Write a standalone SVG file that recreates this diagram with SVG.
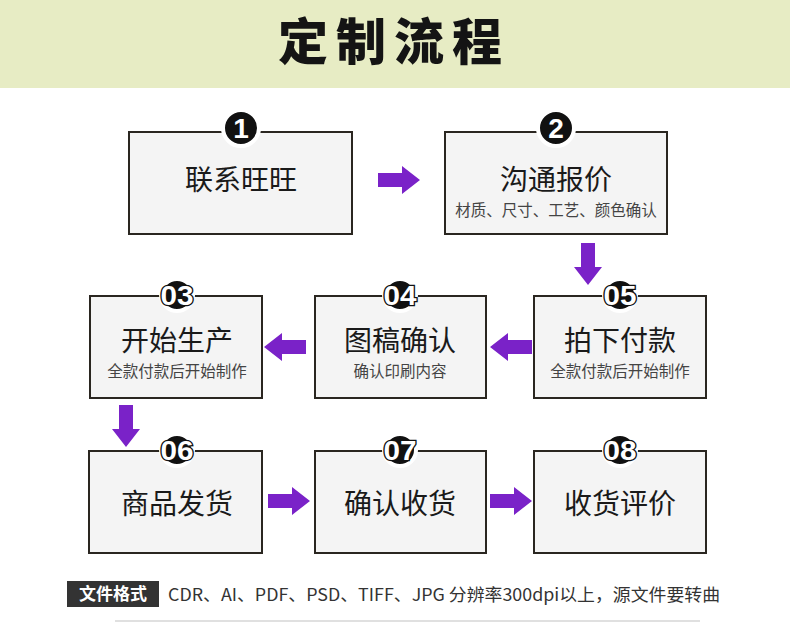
<svg xmlns="http://www.w3.org/2000/svg" xmlns:xlink="http://www.w3.org/1999/xlink" width="790" height="624" viewBox="0 0 790 624">
<style>
.box{fill:#f4f4f4;stroke:#2a2620;stroke-width:2}
.badge{fill:#111;stroke:#fff;stroke-width:4}
.num{font-family:"Liberation Sans","DejaVu Sans",sans-serif;font-weight:bold;fill:#fff;text-anchor:middle;stroke:#111;stroke-width:2.5;paint-order:stroke}
.main{font-family:"Noto Sans CJK SC",sans-serif;font-size:28px;fill:#1a1a1a;text-anchor:middle}
.sub{font-family:"Noto Sans CJK SC",sans-serif;font-size:15.5px;fill:#444;text-anchor:middle}
.arrow{fill:#7a22c8}
</style>
<defs>
<polygon id="arr" points="0,-7 24,-7 24,-14 42,0 24,14 24,7 0,7"/>
</defs>
<rect x="0" y="0" width="790" height="624" fill="#fff"/>
<g id="header">
<rect x="0" y="0" width="790" height="88" fill="#e7ecc4"/>
<text x="278" y="60" font-family="Noto Sans CJK SC,sans-serif" font-size="50" font-weight="900" letter-spacing="8" fill="#141414">定制流程</text>
</g>
<g id="connectors" class="arrow">
<use xlink:href="#arr" transform="translate(378,180)"/>
<use xlink:href="#arr" transform="translate(588,243) rotate(90)"/>
<use xlink:href="#arr" transform="translate(532,347) rotate(180)"/>
<use xlink:href="#arr" transform="translate(306,347) rotate(180)"/>
<use xlink:href="#arr" transform="translate(126,405) rotate(90)"/>
<use xlink:href="#arr" transform="translate(268,501)"/>
<use xlink:href="#arr" transform="translate(490,501)"/>
</g>
<g id="n1">
<rect class="box" x="129" y="132" width="223" height="102"/>
<circle class="badge" cx="241" cy="128" r="18"/>
<text class="num" x="241" y="138" font-size="28" stroke="none">1</text>
<text class="main" x="241" y="190">联系旺旺</text>
</g>
<g id="n2">
<rect class="box" x="445" y="132" width="222" height="102"/>
<circle class="badge" cx="556" cy="128" r="18"/>
<text class="num" x="556" y="138" font-size="28" stroke="none">2</text>
<text class="main" x="556" y="190">沟通报价</text>
<text class="sub" x="556" y="216" font-size="16">材质、尺寸、工艺、颜色确认</text>
</g>
<g id="n3">
<rect class="box" x="90" y="296" width="172" height="102"/>
<circle class="badge" cx="177" cy="295" r="16"/>
<text class="num" x="177" y="305" font-size="27" textLength="33" lengthAdjust="spacingAndGlyphs">03</text>
<text class="main" x="177" y="351">开始生产</text>
<text class="sub" x="177" y="377">全款付款后开始制作</text>
</g>
<g id="n4">
<rect class="box" x="315" y="296" width="171" height="102"/>
<circle class="badge" cx="400" cy="295" r="16"/>
<text class="num" x="400" y="305" font-size="27" textLength="33" lengthAdjust="spacingAndGlyphs">04</text>
<text class="main" x="400" y="351">图稿确认</text>
<text class="sub" x="400" y="377">确认印刷内容</text>
</g>
<g id="n5">
<rect class="box" x="534" y="296" width="172" height="102"/>
<circle class="badge" cx="620" cy="295" r="16"/>
<text class="num" x="620" y="305" font-size="27" textLength="33" lengthAdjust="spacingAndGlyphs">05</text>
<text class="main" x="620" y="351">拍下付款</text>
<text class="sub" x="620" y="377">全款付款后开始制作</text>
</g>
<g id="n6">
<rect class="box" x="89" y="451" width="173" height="102"/>
<circle class="badge" cx="177" cy="450" r="16"/>
<text class="num" x="177" y="460" font-size="27" textLength="33" lengthAdjust="spacingAndGlyphs">06</text>
<text class="main" x="177" y="514">商品发货</text>
</g>
<g id="n7">
<rect class="box" x="315" y="451" width="171" height="102"/>
<circle class="badge" cx="400" cy="450" r="16"/>
<text class="num" x="400" y="460" font-size="27" textLength="33" lengthAdjust="spacingAndGlyphs">07</text>
<text class="main" x="400" y="514">确认收货</text>
</g>
<g id="n8">
<rect class="box" x="534" y="451" width="172" height="102"/>
<circle class="badge" cx="620" cy="450" r="16"/>
<text class="num" x="620" y="460" font-size="27" textLength="33" lengthAdjust="spacingAndGlyphs">08</text>
<text class="main" x="620" y="514">收货评价</text>
</g>
<g id="footer">
<rect x="67" y="581" width="92" height="26" fill="#333"/>
<text x="113" y="600" font-family="Noto Sans CJK SC,sans-serif" font-size="17" font-weight="bold" fill="#fff" text-anchor="middle">文件格式</text>
<text x="168" y="601" font-family="Noto Sans CJK SC,sans-serif" font-size="17" fill="#333" textLength="552" lengthAdjust="spacingAndGlyphs">CDR、AI、PDF、PSD、TIFF、JPG 分辨率300dpi以上，源文件要转曲</text>
<line x1="115" y1="621" x2="700" y2="621" stroke="#e0e0e0" stroke-width="2"/>
</g>
</svg>
